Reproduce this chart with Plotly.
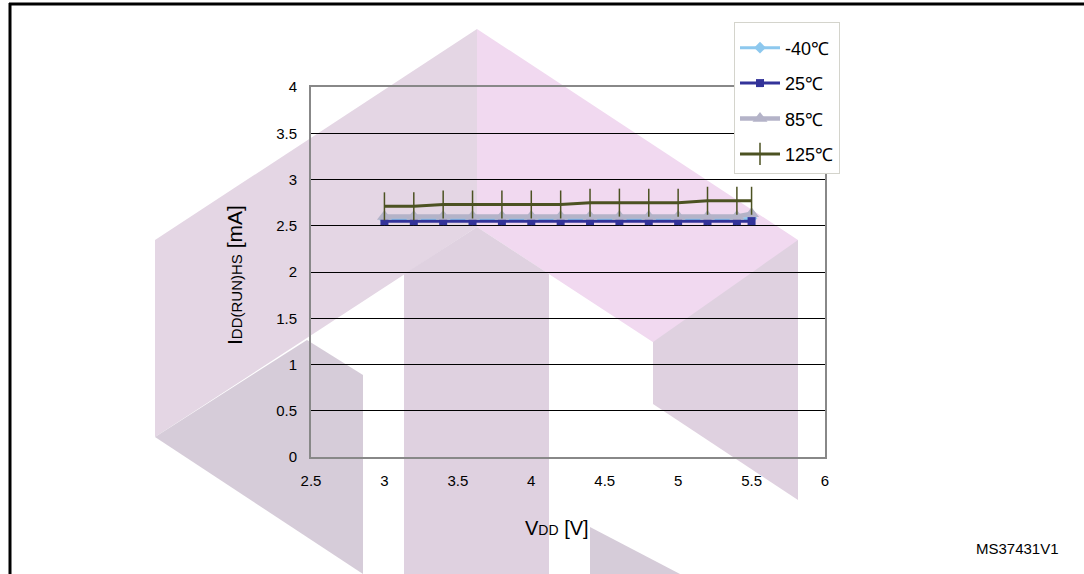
import plotly.graph_objects as go

# ---- data ----
vdd = [3.0, 3.2, 3.4, 3.6, 3.8, 4.0, 4.2, 4.4, 4.6, 4.8, 5.0, 5.2, 5.4, 5.5]
idd_m40 = [2.57, 2.57, 2.57, 2.57, 2.57, 2.57, 2.57, 2.57, 2.57, 2.57, 2.57, 2.57, 2.57, 2.58]
idd_25 = [2.55, 2.55, 2.55, 2.55, 2.55, 2.55, 2.55, 2.55, 2.55, 2.55, 2.55, 2.55, 2.55, 2.55]
idd_85 = [2.60, 2.60, 2.60, 2.60, 2.60, 2.60, 2.60, 2.60, 2.60, 2.60, 2.60, 2.60, 2.60, 2.63]
idd_125 = [2.71, 2.71, 2.73, 2.73, 2.73, 2.73, 2.73, 2.75, 2.75, 2.75, 2.75, 2.77, 2.77, 2.77]
series_names = ["-40℃", "25℃", "85℃", "125℃"]
x_ticks = [2.5, 3, 3.5, 4, 4.5, 5, 5.5, 6]
y_ticks = [0, 0.5, 1, 1.5, 2, 2.5, 3, 3.5, 4]

W, H = 1084, 574
ML, MR, MT, MB = 311, 259, 87, 117
PW, PH = W - ML - MR, H - MT - MB


def px(xp):
    return (xp - ML) / PW


def py(yp):
    return (H - MB - yp) / PH


FONT = "Arial, Liberation Sans, sans-serif"

fig = go.Figure()
styles = [
    dict(color="#8DC8EE", symbol="diamond", size=9, width=3),
    dict(color="#333399", symbol="square", size=8, width=3),
    dict(color="#B4B3C8", symbol="triangle-up", size=13, width=4.5),
    dict(color="#4C5222", symbol="line-ns", size=20, width=3),
]
for name, ys, st, grp in zip(series_names, [idd_m40, idd_25, idd_85, idd_125], styles, ["a", "b", "c", "d"]):
    mk = dict(symbol=st["symbol"], size=st["size"], color=st["color"])
    if st["symbol"] == "line-ns":
        mk["line"] = dict(color=st["color"], width=1.5)
    fig.add_trace(go.Scatter(
        x=vdd, y=ys, name=name, mode="lines+markers", legendgroup=grp,
        line=dict(color=st["color"], width=st["width"]), marker=mk,
    ))

# ---- watermark decoration (pixel polygons) ----
wm = [
    ("#E4D6E4", [(155, 240), (477, 29), (477, 227), (155, 437)]),
    ("#F1D9F0", [(477, 29), (798, 240), (798, 437), (477, 227)]),
    ("#DFD1E0", [(653, 342), (798, 240), (798, 500), (653, 404)]),
    ("#DFD1E0", [(404, 274), (477, 227), (549, 274), (549, 574), (404, 574)]),
    ("#D6CCD9", [(155, 437), (307, 340), (363, 375), (363, 574)]),
    ("#D6CCD9", [(590, 527), (680, 574), (590, 574)]),
]
shapes = []
for col, pts in wm:
    path = "M " + " L ".join(f"{px(a):.5f},{py(b):.5f}" for a, b in pts) + " Z"
    shapes.append(dict(type="path", path=path, xref="paper", yref="paper",
                       fillcolor=col, line=dict(width=0), layer="below"))
# outer frame
shapes.append(dict(type="line", xref="paper", yref="paper", x0=px(9), x1=px(1084), y0=py(4), y1=py(4),
                   line=dict(color="black", width=3), layer="above"))
shapes.append(dict(type="line", xref="paper", yref="paper", x0=px(10), x1=px(10), y0=py(3), y1=py(574),
                   line=dict(color="black", width=3), layer="above"))

annotations = [
    dict(text="I<span style='font-size:15px'>DD(RUN)HS</span> [mA]", x=px(234), y=py(275),
         xref="paper", yref="paper", showarrow=False, textangle=-90,
         xanchor="center", yanchor="middle", font=dict(family=FONT, size=21, color="black")),
    dict(text="V<span style='font-size:14px'>DD</span> [V]", x=px(557), y=py(528),
         xref="paper", yref="paper", showarrow=False,
         xanchor="center", yanchor="middle", font=dict(family=FONT, size=20, color="black")),
    dict(text="MS37431V1", x=px(1061), y=py(548), xref="paper", yref="paper", showarrow=False,
         xanchor="right", yanchor="middle", font=dict(family=FONT, size=15, color="black")),
]

fig.update_layout(
    width=W, height=H,
    margin=dict(l=ML, r=MR, t=MT, b=MB, pad=0),
    paper_bgcolor="white", plot_bgcolor="rgba(0,0,0,0)",
    font=dict(family=FONT, size=15, color="black"),
    shapes=shapes, annotations=annotations,
    showlegend=True,
    legend=dict(x=px(734), y=py(22), xanchor="left", yanchor="top",
                bgcolor="white", bordercolor="#D4D4CC", borderwidth=1,
                font=dict(family=FONT, size=18, color="black"),
                title=dict(text=" ", font=dict(size=5)),
                tracegroupgap=9, itemwidth=40),
)
fig.update_xaxes(range=[2.5, 6], tickvals=x_ticks, ticktext=[str(v) for v in x_ticks],
                 showgrid=False, zeroline=False, showline=True, mirror=True,
                 linecolor="#888888", linewidth=2, ticks="", ticklabelstandoff=9,
                 tickfont=dict(family=FONT, size=15))
fig.update_yaxes(range=[0, 4], tickvals=y_ticks, ticktext=[str(v) for v in y_ticks],
                 showgrid=True, gridcolor="black", gridwidth=1, zeroline=False,
                 showline=True, mirror=True, linecolor="#888888", linewidth=2,
                 ticks="", ticklabelstandoff=9, tickfont=dict(family=FONT, size=15))

fig.write_html("out.html", config={"displayModeBar": False},
               post_script="document.body.style.margin='0';")
